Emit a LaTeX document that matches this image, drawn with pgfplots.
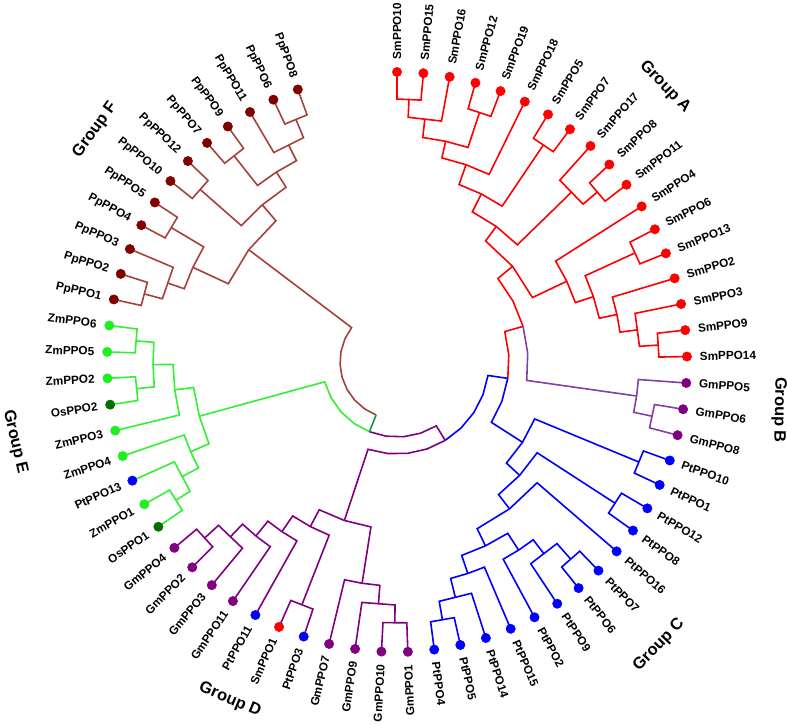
\documentclass[border=0pt]{standalone}
\usepackage{fontspec}
\setmainfont{Liberation Sans}
\usepackage{pgfplots}
\pgfplotsset{compat=1.18}
\definecolor{cA}{RGB}{255,0,0}
\definecolor{cB}{RGB}{128,64,170}
\definecolor{cC}{RGB}{0,0,255}
\definecolor{cD}{RGB}{128,0,128}
\definecolor{cE}{RGB}{51,240,51}
\definecolor{cF}{RGB}{165,65,58}
\definecolor{cT}{RGB}{20,150,80}
\definecolor{dA}{RGB}{255,0,0}
\definecolor{dB}{RGB}{128,0,128}
\definecolor{dC}{RGB}{0,0,255}
\definecolor{dZ}{RGB}{30,240,30}
\definecolor{dO}{RGB}{0,110,0}
\definecolor{dF}{RGB}{128,0,0}
\newcommand{\lbl}{\fontsize{8.8}{9.5}\selectfont\bfseries}
\newcommand{\grp}{\fontsize{12.3}{14}\selectfont\bfseries}
\pgfplotsset{
  br/.style={data cs=polar, line width=1.2pt, mark=none},
  leafR/.style={only marks, mark=*, mark size=3.5pt, data cs=polar,
    point meta=explicit symbolic, nodes near coords,
    visualization depends on={value \thisrow{a}\as\ang},
    nodes near coords style={rotate=\ang, anchor=west, inner xsep=9.5pt, inner ysep=0pt, font=\lbl, text=black}},
  leafL/.style={only marks, mark=*, mark size=3.5pt, data cs=polar,
    point meta=explicit symbolic, nodes near coords,
    visualization depends on={value \thisrow{a}\as\ang},
    nodes near coords style={rotate=\ang+180, anchor=east, inner xsep=9.5pt, inner ysep=0pt, font=\lbl, text=black}},
}
\begin{document}
\begin{tikzpicture}
\useasboundingbox (0,0) rectangle (590.25pt,543pt);
\begin{axis}[at={(0,0)}, anchor=south west, width=590.25pt, height=543pt, scale only axis,
  xmin=-397, xmax=390, ymin=-362, ymax=362, hide axis, clip=false]
% ---------- Group A (red)
\addplot[br,cA] coordinates {(90,290)(90,263)(84.77,263)(84.77,290)};
\addplot[br,cA] coordinates {(87.385,263)(87.385,245)(79.54,245)(79.54,290)};
\addplot[br,cA] coordinates {(74.31,290)(74.31,263)(69.08,263)(69.08,290)};
\addplot[br,cA] coordinates {(83.46,245)(83.46,226)(77.58,226)(71.70,226)(71.70,263)};
\addplot[br,cA] coordinates {(77.58,226)(77.58,209)(70.72,209)(63.85,209)(63.85,290)};
\addplot[br,cA] coordinates {(58.62,290)(58.62,262)(53.38,262)(53.38,290)};
\addplot[br,cA] coordinates {(70.72,209)(70.72,188)(63.36,188)(56.0,188)(56.0,262)};
\addplot[br,cA] coordinates {(42.92,290)(42.92,263)(37.69,263)(37.69,290)};
\addplot[br,cA] coordinates {(48.15,290)(48.15,244)(40.31,244)(40.31,263)};
\addplot[br,cA] coordinates {(63.36,188)(63.36,168)(53.80,168)(44.23,168)(44.23,244)};
\addplot[br,cA] coordinates {(27.23,290)(27.23,262)(22.0,262)(22.0,290)};
\addplot[br,cA] coordinates {(6.31,290)(6.31,262)(1.08,262)(1.08,290)};
\addplot[br,cA] coordinates {(11.54,290)(11.54,243)(3.70,243)(3.70,262)};
\addplot[br,cA] coordinates {(16.77,290)(16.77,225)(12.20,225)(7.62,225)(7.62,243)};
\addplot[br,cA] coordinates {(24.62,262)(24.62,207)(18.41,207)(12.20,207)(12.20,225)};
\addplot[br,cA] coordinates {(32.46,290)(32.46,188)(25.44,188)(18.41,188)(18.41,207)};
\addplot[br,cA] coordinates {(53.80,168)(53.80,150)(39.62,150)(25.44,150)(25.44,188)};
\addplot[br,cA] coordinates {(39.62,150)(39.62,131)(27.70,131)(15.77,131)};
% ---------- Group B (purple)
\addplot[br,cB] coordinates {(15.77,131)(3.85,131)(-8.08,131)(-8.08,242)};
\addplot[br,cB] coordinates {(-9.38,290)(-9.38,261)(-14.62,261)(-14.62,290)};
\addplot[br,cB] coordinates {(-4.15,290)(-4.15,242)(-8.08,242)(-12.0,242)(-12.0,261)};
% ---------- inner joints
\addplot[br,cA] coordinates {(15.77,131)(15.77,112)(3.70,112)(-8.42,112)};
\addplot[br,cC] coordinates {(-8.42,112)(-20.50,112)(-32.6,112)(-32.6,149)};
% ---------- Group C (blue)
\addplot[br,cC] coordinates {(-19.85,290)(-19.85,262)(-25.08,262)(-25.08,290)};
\addplot[br,cC] coordinates {(-30.31,290)(-30.31,260)(-35.54,260)(-35.54,290)};
\addplot[br,cC] coordinates {(-46.0,290)(-46.0,263)(-51.23,263)(-51.23,290)};
\addplot[br,cC] coordinates {(-56.46,290)(-56.46,242)(-48.62,242)(-48.62,263)};
\addplot[br,cC] coordinates {(-61.69,290)(-61.69,224)(-57.12,224)(-52.54,224)(-52.54,242)};
\addplot[br,cC] coordinates {(-82.62,290)(-82.62,262)(-77.38,262)(-77.38,290)};
\addplot[br,cC] coordinates {(-80.0,262)(-80.0,243)(-72.15,243)(-72.15,290)};
\addplot[br,cC] coordinates {(-76.08,243)(-76.08,223)(-71.5,223)(-66.92,223)(-66.92,290)};
\addplot[br,cC] coordinates {(-57.12,224)(-57.12,204)(-64.31,204)(-71.5,204)(-71.5,223)};
\addplot[br,cC] coordinates {(-64.31,204)(-64.31,185)(-52.54,185)(-40.77,185)(-40.77,290)};
\addplot[br,cC] coordinates {(-52.54,185)(-52.54,167)(-42.74,167)(-32.93,167)(-32.93,260)};
\addplot[br,cC] coordinates {(-22.47,262)(-22.47,149)(-32.6,149)(-42.74,149)(-42.74,167)};
\addplot[br,cC] coordinates {(-8.42,112)(-8.42,92)(-20.92,92)(-33.41,92)(-45.91,92)(-58.40,92)};
% ---------- Group D (purple)
\addplot[br,cD] coordinates {(-58.40,92)(-70.89,92)(-83.39,92)(-95.88,92)(-108.37,92)(-108.37,167)};
\addplot[br,cD] coordinates {(-93.08,290)(-93.08,261)(-87.85,261)(-87.85,290)};
\addplot[br,cD] coordinates {(-98.31,290)(-98.31,243)(-90.47,243)(-90.47,261)};
\addplot[br,cD] coordinates {(-103.54,290)(-103.54,224)(-98.97,224)(-94.39,224)(-94.39,243)};
\addplot[br,cD] coordinates {(-108.77,290)(-108.77,261)(-114.0,261)(-114.0,290)};
\addplot[br,cD] coordinates {(-134.92,290)(-134.92,261)(-140.15,261)(-140.15,290)};
\addplot[br,cD] coordinates {(-129.69,290)(-129.69,242)(-137.54,242)(-137.54,261)};
\addplot[br,cD] coordinates {(-124.46,290)(-124.46,224)(-129.04,224)(-133.62,224)(-133.62,242)};
\addplot[br,cD] coordinates {(-119.23,290)(-119.23,205)(-124.14,205)(-129.04,205)(-129.04,224)};
\addplot[br,cD] coordinates {(-111.39,261)(-111.39,186)(-117.77,186)(-124.14,186)(-124.14,205)};
\addplot[br,cD] coordinates {(-117.77,186)(-117.77,167)(-108.37,167)(-98.97,167)(-98.97,224)};
% ---------- Group E (green)
\addplot[br,cE] coordinates {(-182.0,290)(-182.0,262)(-187.23,262)(-187.23,290)};
\addplot[br,cE] coordinates {(-176.77,290)(-176.77,262)(-171.54,262)(-171.54,290)};
\addplot[br,cE] coordinates {(-184.62,262)(-184.62,244)(-179.38,244)(-174.15,244)(-174.15,262)};
\addplot[br,cE] coordinates {(-179.38,244)(-179.38,224)(-172.85,224)(-166.31,224)(-166.31,290)};
\addplot[br,cE] coordinates {(-150.62,290)(-150.62,261)(-145.38,261)(-145.38,290)};
\addplot[br,cE] coordinates {(-155.85,290)(-155.85,244)(-148.0,244)(-148.0,261)};
\addplot[br,cE] coordinates {(-161.08,290)(-161.08,225)(-156.5,225)(-151.92,225)(-151.92,244)};
\addplot[br,cE] coordinates {(-172.85,224)(-172.85,205)(-164.67,205)(-156.5,205)(-156.5,225)};
\addplot[br,cE] coordinates {(-164.67,205)(-164.67,75)(-151.39,75)(-138.11,75)(-124.82,75)(-111.54,75)};
\addplot[br,cD] coordinates {(-111.54,75)(-98.26,75)(-84.97,75)(-71.69,75)(-58.40,75)(-58.40,92)};
% ---------- Group F (brown)
\addplot[br,cF] coordinates {(-192.46,290)(-192.46,262)(-197.69,262)(-197.69,290)};
\addplot[br,cF] coordinates {(-195.08,262)(-195.08,243)(-202.92,243)(-202.92,290)};
\addplot[br,cF] coordinates {(-208.15,290)(-208.15,263)(-213.38,263)(-213.38,290)};
\addplot[br,cF] coordinates {(-199.0,243)(-199.0,225)(-204.88,225)(-210.77,225)(-210.77,263)};
\addplot[br,cF] coordinates {(-218.62,290)(-218.62,262)(-223.85,262)(-223.85,290)};
\addplot[br,cF] coordinates {(-229.08,290)(-229.08,263)(-234.31,263)(-234.31,290)};
\addplot[br,cF] coordinates {(-244.77,290)(-244.77,263)(-250.0,263)(-250.0,290)};
\addplot[br,cF] coordinates {(-239.54,290)(-239.54,243)(-247.38,243)(-247.38,263)};
\addplot[br,cF] coordinates {(-231.69,263)(-231.69,225)(-237.58,225)(-243.46,225)(-243.46,243)};
\addplot[br,cF] coordinates {(-221.23,262)(-221.23,207)(-229.40,207)(-237.58,207)(-237.58,225)};
\addplot[br,cF] coordinates {(-204.88,225)(-204.88,186)(-217.14,186)(-229.40,186)(-229.40,207)};
\addplot[br,cF] coordinates {(-217.14,186)(-217.14,57)(-203.94,57)(-190.74,57)(-177.54,57)(-164.34,57)(-151.14,57)(-137.94,57)(-124.74,57)(-111.54,57)};
\addplot[br,cT] coordinates {(-111.54,57)(-111.54,75)};
% ---------- leaves, right side
\addplot[leafR, dA] table[x=a, y=r, meta=lab] {
a r lab
90 290 SmPPO10
84.77 290 SmPPO15
79.54 290 SmPPO16
74.31 290 SmPPO12
69.08 290 SmPPO19
63.85 290 SmPPO18
58.62 290 SmPPO5
53.38 290 SmPPO7
48.15 290 SmPPO17
42.92 290 SmPPO8
37.69 290 SmPPO11
32.46 290 SmPPO4
27.23 290 SmPPO6
22.0 290 SmPPO13
16.77 290 SmPPO2
11.54 290 SmPPO3
6.31 290 SmPPO9
1.08 290 SmPPO14
};
\addplot[leafR, dB] table[x=a, y=r, meta=lab] {
a r lab
-4.15 290 GmPPO5
-9.38 290 GmPPO6
-14.62 290 GmPPO8
};
\addplot[leafR, dC] table[x=a, y=r, meta=lab] {
a r lab
-19.85 290 PtPPO10
-25.08 290 PtPPO1
-30.31 290 PtPPO12
-35.54 290 PtPPO8
-40.77 290 PtPPO16
-46.0 290 PtPPO7
-51.23 290 PtPPO6
-56.46 290 PtPPO9
-61.69 290 PtPPO2
-66.92 290 PtPPO15
-72.15 290 PtPPO14
-77.38 290 PtPPO5
-82.62 290 PtPPO4
};
% ---------- leaves, left side
\addplot[leafL, dB] table[x=a, y=r, meta=lab] {
a r lab
-87.85 290 GmPPO1
-93.08 290 GmPPO10
-98.31 290 GmPPO9
-103.54 290 GmPPO7
-124.46 290 GmPPO11
-129.69 290 GmPPO3
-134.92 290 GmPPO2
-140.15 290 GmPPO4
};
\addplot[leafL, dC] table[x=a, y=r, meta=lab] {
a r lab
-108.77 290 PtPPO3
-119.23 290 PtPPO11
-155.85 290 PtPPO13
};
\addplot[leafL, dA] table[x=a, y=r, meta=lab] {
a r lab
-114.0 290 SmPPO1
};
\addplot[leafL, dZ] table[x=a, y=r, meta=lab] {
a r lab
-150.62 290 ZmPPO1
-161.08 290 ZmPPO4
-166.31 290 ZmPPO3
-176.77 290 ZmPPO2
-182.0 290 ZmPPO5
-187.23 290 ZmPPO6
};
\addplot[leafL, dO] table[x=a, y=r, meta=lab] {
a r lab
-145.38 290 OsPPO1
-171.54 290 OsPPO2
};
\addplot[leafL, dF] table[x=a, y=r, meta=lab] {
a r lab
-192.46 290 PpPPO1
-197.69 290 PpPPO2
-202.92 290 PpPPO3
-208.15 290 PpPPO4
-213.38 290 PpPPO5
-218.62 290 PpPPO10
-223.85 290 PpPPO12
-229.08 290 PpPPO7
-234.31 290 PpPPO9
-239.54 290 PpPPO11
-244.77 290 PpPPO6
-250.0 290 PpPPO8
};
% ---------- group labels
\node[rotate=-46, font=\grp] at (axis cs:268,275) {Group A};
\node[rotate=-91, font=\grp] at (axis cs:382,-48) {Group B};
\node[rotate=46, font=\grp] at (axis cs:262,-283) {Group C};
\node[rotate=-23, font=\grp] at (axis cs:-167,-338) {Group D};
\node[rotate=-77, font=\grp] at (axis cs:-382,-80) {Group E};
\node[rotate=54, font=\grp] at (axis cs:-302,232) {Group F};
\end{axis}
\end{tikzpicture}
\end{document}
